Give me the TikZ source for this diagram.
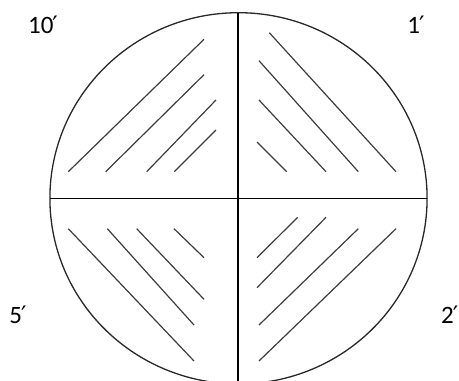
\documentclass[tikz,border=0pt]{standalone}
\usepackage{fontspec}
\setmainfont{Carlito}
\newfontfamily\primefont{DejaVu Sans}
\usepackage{tikz}
\definecolor{ink}{RGB}{40,40,40}
\definecolor{hatch}{RGB}{60,60,60}
\newcommand{\pr}{\kern-1pt{\primefont\fontsize{24}{26}\selectfont ′}}

\begin{document}
\begin{tikzpicture}[x=1pt,y=-1pt,every node/.style={font=\fontsize{25}{27}\selectfont,inner sep=0pt},
  hatchline/.style={hatch,line width=1.2pt}]
  \useasboundingbox (0,0) rectangle (459,381);
  \begin{scope}
    \clip (0,0) rectangle (459,381);
    \draw[ink,line width=1.3pt] (238.5,198.3) ellipse (188.6 and 185.6);
  \end{scope}
  \draw[black,line width=1.5pt] (49.9,198.3) -- (427.1,198.3);
  \draw[black,line width=1.5pt] (238,12.7) -- (238,381);
  \foreach \xa/\ya/\xb/\yb in {68.3/171.7/204/39.3, 105.7/171.7/204/74.7, 146.7/171.7/216/100, 174.3/171.7/216/130,
      269.3/32.7/396/171.7, 259/60.7/358.3/171.7, 259/100/326/171.7, 257/142/286.7/171.7,
      68.3/228.7/194/361, 107.3/228.7/194/325, 136.7/228.7/204/299.3, 174/228.7/204/257.7,
      297.7/217.3/257/257.7, 326/217.3/257/287.7, 358.3/228.7/259/325, 396/228.7/259/361}
    \draw[hatchline] (\xa,\ya) -- (\xb,\yb);
  \node (ten) at (43,25) {10\pr};
  \node (one) at (416,25) {1\pr};
  \node (five) at (18,315) {5\pr};
  \node[anchor=west] (two) at (441,315) {2\pr};
\end{tikzpicture}
\end{document}
